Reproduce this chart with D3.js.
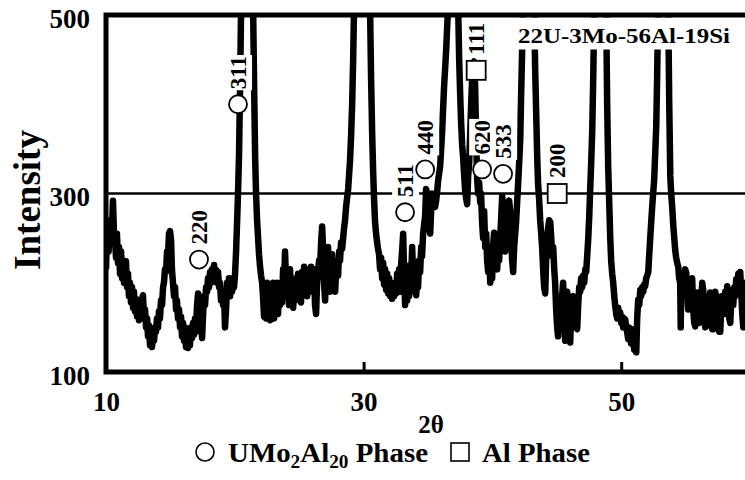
<!DOCTYPE html>
<html>
<head>
<meta charset="utf-8">
<script src="https://d3js.org/d3.v7.min.js"></script>
<style>
    body { margin: 0; background: #fff; }
    svg { display: block; }
</style>
</head>
<body>
<div id="chart"></div>
<script>
// XRD scan: [2theta, intensity]
const scan = [
    [10.00,215],[10.08,262],[10.20,235],[10.31,270],[10.43,245],[10.54,292],[10.62,255],[10.70,248],[10.78,228],[10.85,255],
    [10.93,222],[11.01,240],[11.09,210],[11.17,235],[11.25,205],[11.33,225],[11.40,200],[11.48,215],[11.55,224],[11.63,195],
    [11.71,210],[11.78,185],[11.86,200],[11.94,178],[12.02,195],[12.10,172],[12.17,190],[12.25,168],[12.33,182],[12.41,162],
    [12.48,178],[12.56,158],[12.64,170],[12.72,165],[12.80,182],[12.87,186],[12.95,160],[13.03,170],[13.11,150],[13.19,160],
    [13.26,140],[13.34,152],[13.42,130],[13.50,148],[13.57,128],[13.65,140],[13.73,135],[13.81,150],[13.88,145],[13.96,160],
    [14.04,150],[14.11,168],[14.19,160],[14.27,180],[14.35,175],[14.43,195],[14.50,200],[14.58,215],[14.66,212],[14.74,235],
    [14.82,232],[14.89,255],[14.97,258],[15.05,248],[15.12,215],[15.20,200],[15.28,185],[15.36,195],[15.44,170],[15.51,180],
    [15.59,160],[15.67,170],[15.75,150],[15.83,162],[15.90,140],[15.98,155],[16.06,135],[16.14,150],[16.21,128],[16.29,142],
    [16.37,127],[16.45,140],[16.52,130],[16.60,150],[16.68,138],[16.76,155],[16.84,142],[16.91,160],[16.99,150],[17.07,175],
    [17.15,188],[17.23,160],[17.30,145],[17.38,160],[17.46,138],[17.54,165],[17.61,185],[17.69,175],[17.77,195],[17.85,190],
    [17.92,205],[18.00,195],[18.08,212],[18.16,200],[18.23,215],[18.31,205],[18.39,220],[18.47,205],[18.54,215],[18.62,200],
    [18.70,212],[18.78,195],[18.85,200],[18.93,180],[19.01,190],[19.09,175],[19.16,190],[19.24,150],[19.32,170],[19.40,200],
    [19.48,190],[19.55,205],[19.63,185],[19.71,200],[19.79,190],[19.86,205],[19.94,195],[20.02,210],[20.10,235],[20.17,265],
    [20.25,300],[20.33,345],[20.41,420],[20.49,510],[20.95,1800],[21.42,510],[21.50,420],[21.58,340],[21.65,300],[21.73,270],
    [21.81,250],[21.88,232],[21.96,218],[22.04,208],[22.12,200],[22.19,185],[22.27,162],
    [22.35,195],[22.43,160],[22.50,200],[22.58,165],[22.66,190],[22.74,158],[22.81,195],[22.89,168],[22.97,200],[23.05,160],
    [23.12,185],[23.20,170],[23.28,200],[23.36,165],[23.43,190],[23.51,175],[23.59,200],[23.67,178],[23.75,215],[23.82,195],
    [23.90,235],[23.98,200],[24.06,185],[24.14,205],[24.21,175],[24.29,215],[24.37,185],[24.45,200],[24.53,172],[24.60,195],
    [24.68,180],[24.76,205],[24.84,185],[24.91,210],[24.99,190],[25.07,205],[25.14,178],[25.22,212],[25.30,195],[25.38,218],
    [25.46,200],[25.53,215],[25.61,185],[25.69,198],[25.77,205],[25.84,190],[25.92,218],[26.00,205],[26.08,195],[26.15,215],
    [26.23,175],[26.31,165],[26.39,200],[26.46,210],[26.54,225],[26.62,215],[26.70,245],[26.78,263],[26.85,240],[26.93,200],
    [27.01,180],[27.09,210],[27.16,225],[27.24,240],[27.32,215],[27.40,190],[27.48,210],[27.55,232],[27.63,200],[27.71,220],
    [27.79,190],[27.87,215],[27.94,225],[28.02,208],[28.10,235],[28.17,225],[28.25,245],[28.33,238],[28.41,250],[28.49,262],
    [28.56,270],[28.64,285],[28.72,295],[28.80,305],[28.87,320],[28.95,338],[29.03,365],[29.11,400],[29.19,450],[29.26,510],
    [29.92,1800],[30.50,510],[30.58,430],[30.66,370],[30.74,325],[30.81,295],[30.89,268],[30.97,255],[31.05,245],[31.13,237],
    [31.20,232],[31.28,215],[31.36,228],[31.44,205],[31.52,222],[31.59,198],[31.67,215],[31.75,192],[31.83,210],[31.90,188],
    [31.98,205],[32.06,185],[32.14,200],[32.21,182],[32.29,198],[32.37,185],[32.45,200],[32.53,188],[32.60,210],[32.68,195],
    [32.76,215],[32.83,190],[32.91,220],[32.99,235],[33.07,255],[33.14,215],[33.22,175],[33.30,200],[33.38,180],[33.46,210],
    [33.53,185],[33.61,220],[33.69,205],[33.77,240],[33.84,210],[33.92,190],[34.00,215],[34.08,186],[34.16,205],[34.23,195],
    [34.31,225],[34.39,212],[34.47,240],[34.54,230],[34.62,255],[34.70,265],[34.78,275],[34.85,305],[34.93,300],[35.01,280],
    [35.09,262],[35.17,255],[35.24,280],[35.32,300],[35.40,292],[35.48,288],[35.55,285],[35.63,292],[35.71,302],[35.79,315],
    [35.86,322],[35.94,330],[36.02,350],[36.10,370],[36.17,394],[36.25,420],[36.33,440],[36.41,461],[36.56,510],[36.95,1800],
    [37.34,510],[37.42,450],[37.50,410],[37.57,380],[37.65,355],[37.73,340],[37.81,320],[37.89,302],[37.96,295],[38.04,288],
    [38.12,320],[38.20,335],[38.27,365],[38.35,400],[38.43,430],[38.50,445],[38.58,448],[38.66,420],[38.74,360],[38.81,318],
    [38.89,300],[38.97,312],[39.05,290],[39.12,300],[39.20,268],[39.28,250],[39.36,280],[39.44,240],[39.52,255],[39.59,225],
    [39.67,212],[39.75,240],[39.83,200],[39.90,228],[39.98,205],[40.06,242],[40.13,256],[40.21,235],[40.29,225],[40.37,215],
    [40.45,240],[40.52,225],[40.60,250],[40.68,272],[40.76,297],[40.84,275],[40.91,255],[40.99,235],[41.07,272],[41.15,290],
    [41.22,284],[41.30,292],[41.38,280],[41.46,250],[41.53,226],[41.61,212],[41.69,240],[41.77,255],[41.84,268],[41.92,290],
    [42.00,312],[42.08,335],[42.16,360],[42.23,410],[42.31,461],[42.39,520],[42.81,1800],[43.24,510],[43.32,440],[43.40,390],
    [43.48,340],[43.55,310],[43.63,293],[43.71,270],[43.79,255],[43.86,240],[43.94,215],[44.02,195],[44.10,188],[44.17,225],
    [44.25,250],[44.33,262],[44.41,270],[44.49,268],[44.57,250],[44.64,230],[44.72,240],[44.80,215],[44.87,200],[44.95,170],
    [45.03,150],[45.10,140],[45.18,160],[45.26,175],[45.34,155],[45.41,185],[45.49,200],[45.57,165],[45.65,135],[45.72,170],
    [45.80,190],[45.88,180],[45.96,145],[46.04,133],[46.11,165],[46.19,180],[46.27,185],[46.35,160],[46.43,170],[46.50,150],
    [46.58,148],[46.66,175],[46.74,195],[46.82,190],[46.89,205],[46.97,195],[47.05,208],[47.13,200],[47.21,215],[47.28,212],
    [47.36,230],[47.44,249],[47.52,275],[47.59,304],[47.67,335],[47.75,370],[47.83,430],[47.91,510],[48.33,1800],[48.83,510],
    [48.91,400],[48.99,330],[49.07,290],[49.15,250],[49.22,225],[49.30,210],[49.38,200],[49.46,185],[49.53,175],[49.61,165],
    [49.69,160],[49.77,172],[49.84,160],[49.92,167],[50.00,155],[50.08,162],[50.15,150],[50.23,160],[50.31,159],[50.39,150],
    [50.46,145],[50.54,137],[50.62,150],[50.70,145],[50.77,132],[50.85,148],[50.93,140],[51.01,125],[51.09,140],[51.17,122],
    [51.24,160],[51.32,181],[51.40,175],[51.48,192],[51.55,185],[51.63,195],[51.71,190],[51.79,198],[51.86,196],[51.94,205],
    [52.02,208],[52.10,212],[52.17,230],[52.25,249],[52.33,268],[52.41,286],[52.48,300],[52.56,315],[52.64,345],[52.72,375],
    [52.79,430],[52.87,510],[53.26,1800],[53.65,510],[53.73,400],[53.81,320],[53.88,300],[53.96,285],[54.04,265],[54.12,250],
    [54.19,237],[54.27,228],[54.35,222],[54.43,218],[54.50,205],[54.58,200],[54.62,150],[54.66,195],[54.74,210],[54.81,204],
    [54.89,185],[54.97,215],[55.05,211],[55.12,190],[55.20,170],[55.28,190],[55.36,175],[55.43,200],[55.51,205],[55.59,170],
    [55.67,155],[55.75,151],[55.82,175],[55.90,189],[55.98,170],[56.06,155],[56.14,159],[56.21,180],[56.29,200],[56.37,192],
    [56.45,165],[56.52,150],[56.60,151],[56.68,175],[56.76,185],[56.83,165],[56.91,189],[56.99,170],[57.07,148],[57.15,148],
    [57.22,175],[57.30,190],[57.38,180],[57.46,185],[57.54,160],[57.61,145],[57.69,145],[57.77,175],[57.85,185],[57.92,180],
    [58.00,165],[58.08,190],[58.15,175],[58.23,196],[58.31,185],[58.39,160],[58.47,155],[58.54,180],[58.62,192],[58.70,175],
    [58.78,195],[58.85,185],[58.93,204],[59.01,195],[59.09,210],[59.16,200],[59.24,212],[59.32,190],[59.40,165],[59.48,150],
    [59.55,175],[59.63,200],[59.71,195],[60.00,190]
];

const xTicks = [10, 30, 50];
const yTicks = [100, 300, 500];
const gridValues = [300];

// indexed reflections: circle = UMo2Al20, square = Al
const phaseMarks = [
    { hkl: '220', symbol: 'circle', x: 17.22, y: 226 },
    { hkl: '311', symbol: 'circle', x: 20.25, y: 400 },
    { hkl: '511', symbol: 'circle', x: 33.22, y: 279 },
    { hkl: '440', symbol: 'circle', x: 34.78, y: 327 },
    { hkl: '111', symbol: 'square', x: 38.74, y: 438 },
    { hkl: '620', symbol: 'circle', x: 39.20, y: 327 },
    { hkl: '533', symbol: 'circle', x: 40.83, y: 322 },
    { hkl: '200', symbol: 'square', x: 45.03, y: 300 }
];

const sampleName = '22U-3Mo-56Al-19Si';
const legendItems = [
    { symbol: 'circle', parts: [['UMo', false], ['2', true], ['Al', false], ['20', true], [' Phase', false]] },
    { symbol: 'square', parts: [['Al Phase', false]] }
];

const FONT = "'Liberation Serif', 'Times New Roman', 'DejaVu Serif', serif";

const width = 745, height = 480;
const margin = { top: 15, left: 106, bottom: 108 };
const plotRight = 750;   // frame runs just past the window edge

const svg = d3.select('#chart').append('svg')
    .attr('width', width)
    .attr('height', height)
    .style('font-family', FONT)
    .style('font-weight', 'bold');

const x = d3.scaleLinear().domain([10, 60]).range([margin.left, plotRight]);
const y = d3.scaleLinear().domain([100, 500]).range([height - margin.bottom, margin.top]);

svg.append('defs').append('clipPath').attr('id', 'plot-clip')
    .append('rect')
    .attr('x', x(10)).attr('y', y(500))
    .attr('width', x(60) - x(10)).attr('height', y(100) - y(500));

// grid line at 300
svg.selectAll('.grid').data(gridValues).enter().append('line')
    .attr('class', 'grid')
    .attr('x1', x(10)).attr('x2', x(60))
    .attr('y1', d => y(d)).attr('y2', d => y(d))
    .attr('stroke', '#000').attr('stroke-width', 2.5);

// the scan itself
const line = d3.line().x(d => x(d[0])).y(d => y(d[1]));
svg.append('path')
    .datum(scan)
    .attr('clip-path', 'url(#plot-clip)')
    .attr('d', line)
    .attr('fill', 'none')
    .attr('stroke', '#000')
    .attr('stroke-width', 6.5)
    .attr('stroke-linejoin', 'round');

// reflection markers + rotated hkl labels on white boxes
const markR = 9, sq = 19, gap = 6;
phaseMarks.forEach(d => {
    const cx = x(d.x), cy = y(d.y);
    const g = svg.append('g');
    const half = d.symbol === 'circle' ? markR : sq / 2;
    const lab = g.append('g').attr('transform', `translate(${cx},${cy - half - gap}) rotate(-90)`);
    const t = lab.append('text')
        .attr('dy', '0.35em')
        .style('font-size', '23px')
        .text(d.hkl);
    const bb = t.node().getBBox();
    lab.insert('rect', 'text')
        .attr('x', bb.x - 1).attr('y', bb.y - 1)
        .attr('width', bb.width + 2).attr('height', bb.height + 2)
        .attr('fill', '#fff');
    if (d.symbol === 'circle') {
        g.append('circle').attr('cx', cx).attr('cy', cy).attr('r', markR)
            .attr('fill', '#fff').attr('stroke', '#000').attr('stroke-width', 1.8);
    } else {
        g.append('rect').attr('x', cx - sq / 2).attr('y', cy - sq / 2)
            .attr('width', sq).attr('height', sq)
            .attr('fill', '#fff').attr('stroke', '#000').attr('stroke-width', 1.8);
    }
});

// sample name box, top right
svg.append('rect')
    .attr('x', 516).attr('y', y(500) + 2.5)
    .attr('width', plotRight - 516).attr('height', 32)
    .attr('fill', '#fff');
svg.append('text')
    .attr('x', 518).attr('y', 43)
    .attr('textLength', 212)
    .attr('lengthAdjust', 'spacingAndGlyphs')
    .style('font-size', '22px')
    .text(sampleName);

// axes
const xAxis = d3.axisBottom(x).tickValues(xTicks).tickSizeInner(-10).tickSizeOuter(0).tickPadding(20);
const gx = svg.append('g').attr('transform', `translate(0,${y(100)})`).call(xAxis)
    .attr('font-family', null).attr('font-size', null);
gx.select('.domain').remove();
gx.selectAll('.tick line').attr('stroke', '#000').attr('stroke-width', 3);
gx.selectAll('text').style('font-size', '27px').attr('fill', '#000');

const yAxis = d3.axisLeft(y).tickValues(yTicks).tickSize(0).tickPadding(16);
const gy = svg.append('g').attr('transform', `translate(${x(10)},0)`).call(yAxis)
    .attr('font-family', null).attr('font-size', null);
gy.select('.domain').remove();
gy.selectAll('text').style('font-size', '27px').attr('fill', '#000').attr('dy', '0.45em');

// plot frame
svg.append('rect')
    .attr('x', x(10)).attr('y', y(500))
    .attr('width', x(60) - x(10)).attr('height', y(100) - y(500))
    .attr('fill', 'none').attr('stroke', '#000').attr('stroke-width', 5);

// axis titles
svg.append('text')
    .attr('transform', `translate(40,200) rotate(-90)`)
    .attr('text-anchor', 'middle')
    .style('font-size', '37px')
    .text('Intensity');

svg.append('text')
    .attr('x', 431).attr('y', 433)
    .attr('text-anchor', 'middle')
    .style('font-size', '25px')
    .text('2θ');

// legend
const legendPos = [{ sx: 205, tx: 228, len: 200 }, { sx: 460, tx: 482, len: 108 }];
const legendY = 452;
legendItems.forEach((item, i) => {
    const p = legendPos[i];
    if (item.symbol === 'circle') {
        svg.append('circle').attr('cx', p.sx).attr('cy', legendY).attr('r', 9)
            .attr('fill', '#fff').attr('stroke', '#000').attr('stroke-width', 1.6);
    } else {
        svg.append('rect').attr('x', p.sx - 9).attr('y', legendY - 9).attr('width', 18).attr('height', 18)
            .attr('fill', '#fff').attr('stroke', '#000').attr('stroke-width', 1.6);
    }
    const t = svg.append('text').attr('x', p.tx).attr('y', legendY + 10)
        .attr('textLength', p.len)
        .attr('lengthAdjust', 'spacingAndGlyphs')
        .style('font-size', '27px');
    let lowered = false;
    item.parts.forEach(([s, sub]) => {
        const ts = t.append('tspan').text(s);
        if (sub) ts.style('font-size', '18px');
        if (sub && !lowered) { ts.attr('dy', 6); lowered = true; }
        else if (!sub && lowered) { ts.attr('dy', -6); lowered = false; }
    });
});
</script>
</body>
</html>
